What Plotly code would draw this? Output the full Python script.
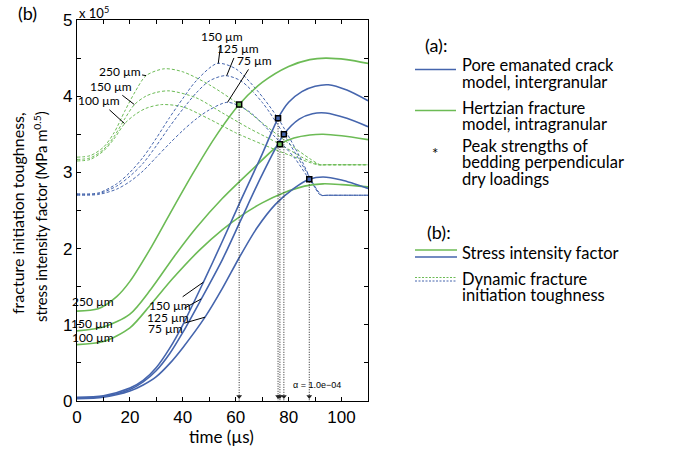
import plotly.graph_objects as go

BLUE = '#4565ad'
GREEN = '#6cbb55'

# ---- Stress intensity factor (solid lines), values in 1e5 MPa m^0.5 ----
sif_g250_t = [0, 8, 15, 20, 27.4, 35, 43.7, 52, 61.3, 70, 80, 88, 94, 102, 110]
sif_g250_k = [1.18, 1.21, 1.37, 1.57, 1.98, 2.45, 2.98, 3.45, 3.89, 4.18, 4.39, 4.48, 4.5, 4.48, 4.43]
sif_g150_t = [0, 10, 20, 28, 36.8, 45, 55, 66, 76.7, 82, 88, 93, 100, 110]
sif_g150_k = [0.92, 0.97, 1.14, 1.47, 1.9, 2.27, 2.66, 3.03, 3.37, 3.45, 3.49, 3.5, 3.48, 3.43]
sif_g100_t = [0, 10, 20, 28, 36, 46.3, 55, 62, 70, 78, 86, 93, 100, 110]
sif_g100_k = [0.74, 0.78, 0.96, 1.27, 1.6, 1.98, 2.25, 2.43, 2.6, 2.73, 2.82, 2.85, 2.84, 2.81]

sif_b150_t = [0, 10, 20, 25, 30, 35, 40, 47.8, 55, 62, 70, 76, 80, 85, 90, 95, 102, 110]
sif_b150_k = [0.05, 0.07, 0.17, 0.27, 0.44, 0.69, 1.0, 1.56, 2.1, 2.64, 3.24, 3.71, 3.92, 4.06, 4.13, 4.15, 4.08, 3.94]
sif_b125_t = [0, 10, 20, 25, 30, 35, 40, 47, 55, 62, 70, 78.2, 84, 89, 94, 102, 110]
sif_b125_k = [0.04, 0.06, 0.15, 0.25, 0.4, 0.62, 0.9, 1.34, 1.86, 2.38, 2.97, 3.5, 3.7, 3.77, 3.78, 3.71, 3.6]
sif_b75_t = [0, 10, 20, 25, 30, 35, 40, 48.4, 55, 61.3, 68, 75, 82, 87.8, 93, 100, 110]
sif_b75_k = [0.03, 0.05, 0.13, 0.21, 0.32, 0.49, 0.7, 1.1, 1.48, 1.88, 2.27, 2.58, 2.79, 2.91, 2.94, 2.9, 2.79]

# ---- Dynamic fracture initiation toughness (dashed lines) ----
dft_g250_t = [0, 5, 10, 14, 18, 22, 26.1, 33, 40, 50, 61.3, 70, 80, 88, 92, 94, 100, 110]
dft_g250_k = [3.2, 3.22, 3.33, 3.52, 3.8, 4.06, 4.27, 4.36, 4.32, 4.15, 3.89, 3.65, 3.38, 3.18, 3.1, 3.1, 3.1, 3.1]
dft_g150_t = [0, 5, 10, 14, 18, 21.7, 26, 30, 35, 45, 55, 65, 76.7, 85, 91.5, 93.5, 100, 110]
dft_g150_k = [3.17, 3.19, 3.3, 3.47, 3.7, 3.89, 4.0, 4.05, 4.07, 3.98, 3.78, 3.58, 3.37, 3.2, 3.1, 3.1, 3.1, 3.1]
dft_g100_t = [0, 5, 10, 14, 18, 22, 26, 32, 40, 50, 60, 70, 80, 91, 93, 100, 110]
dft_g100_k = [3.15, 3.17, 3.28, 3.44, 3.64, 3.76, 3.84, 3.89, 3.86, 3.7, 3.52, 3.37, 3.23, 3.1, 3.1, 3.1, 3.1]

dft_b150_t = [0, 8, 15, 20, 25, 30, 35, 40, 45, 53, 60, 68, 76, 84, 92, 94, 100, 110]
dft_b150_k = [2.72, 2.73, 2.85, 3.0, 3.2, 3.45, 3.72, 3.97, 4.2, 4.43, 4.36, 4.08, 3.71, 3.22, 2.7, 2.7, 2.7, 2.7]
dft_b125_t = [0, 8, 15, 20, 25, 30, 35, 40, 45, 50, 56, 62, 70, 78.2, 86, 92.5, 94.5, 100, 110]
dft_b125_k = [2.71, 2.72, 2.82, 2.95, 3.12, 3.35, 3.6, 3.83, 4.04, 4.2, 4.27, 4.2, 3.92, 3.5, 3.05, 2.7, 2.7, 2.7, 2.7]
dft_b75_t = [0, 8, 15, 20, 25, 30, 35, 40, 45, 50, 57, 65, 75, 82, 87.8, 92.5, 94.5, 100, 110]
dft_b75_k = [2.7, 2.71, 2.78, 2.88, 3.02, 3.2, 3.38, 3.55, 3.7, 3.82, 3.92, 3.8, 3.46, 3.2, 2.91, 2.7, 2.7, 2.7, 2.7]

# ---- Peak strengths (intersections) ----
peak_t = [61.3, 76.0, 78.2, 76.7, 87.8]
peak_k = [3.89, 3.71, 3.50, 3.37, 2.91]
peak_c = [GREEN, BLUE, BLUE, GREEN, BLUE]

xtick_vals = [0, 10, 20, 30, 40, 50, 60, 70, 80, 90, 100, 110]
xtick_text = ['0', ' ', '20', ' ', '40', ' ', '60', ' ', '80', ' ', '100', ' ']
ytick_vals = [0, 0.5, 1, 1.5, 2, 2.5, 3, 3.5, 4, 4.5, 5]
ytick_text = ['0', ' ', '1', ' ', '2', ' ', '3', ' ', '4', ' ', '5']

TXT = 'Lato'
NUM = 'Liberation Sans'

fig = go.Figure()

def add(t, k, color, dashed):
    fig.add_trace(go.Scatter(
        x=t, y=k, mode='lines', showlegend=False, hoverinfo='skip',
        line=dict(color=color, width=1 if dashed else 1.6,
                  dash='3px,2px' if dashed else 'solid',
                  shape='spline', smoothing=0.8)))

for t, k in [(dft_g250_t, dft_g250_k), (dft_g150_t, dft_g150_k), (dft_g100_t, dft_g100_k)]:
    add(t, k, GREEN, True)
for t, k in [(dft_b150_t, dft_b150_k), (dft_b125_t, dft_b125_k), (dft_b75_t, dft_b75_k)]:
    add(t, k, BLUE, True)
for t, k in [(sif_g250_t, sif_g250_k), (sif_g150_t, sif_g150_k), (sif_g100_t, sif_g100_k)]:
    add(t, k, GREEN, False)
for t, k in [(sif_b150_t, sif_b150_k), (sif_b125_t, sif_b125_k), (sif_b75_t, sif_b75_k)]:
    add(t, k, BLUE, False)

# dotted drop lines to the time axis
for t, k in zip(peak_t, peak_k):
    fig.add_trace(go.Scatter(x=[t, t], y=[k, 0], mode='lines', showlegend=False,
                             hoverinfo='skip',
                             line=dict(color='#222', width=1, dash='1px,1.5px')))
fig.add_trace(go.Scatter(x=peak_t, y=[0.06] * len(peak_t), mode='markers', showlegend=False,
                         hoverinfo='skip', cliponaxis=False,
                         marker=dict(symbol='triangle-down', size=5, color='#222')))
fig.add_trace(go.Scatter(x=peak_t, y=peak_k, mode='markers', showlegend=False, hoverinfo='skip',
                         marker=dict(symbol='square', size=5, color=peak_c,
                                     line=dict(color='black', width=1.5))))

ann = []

def lab(text, tx, ty, px_=None, py_=None, size=12):
    d = dict(text=text, x=tx, y=ty, xref='x', yref='y', showarrow=False,
             font=dict(family=TXT, size=size, color='black'))
    if px_ is not None:
        d.update(x=px_, y=py_, ax=tx, ay=ty, axref='x', ayref='y', showarrow=True,
                 arrowhead=0, arrowwidth=1, arrowcolor='black', standoff=0, startstandoff=0)
    ann.append(d)

# dashed-curve labels
lab('250 µm', 16.1, 4.33, 26.1, 4.27)
lab('150 µm', 12.7, 4.13, 21.7, 3.89)
lab('100 µm', 8.5, 3.94, 18.0, 3.64)
lab('150 µm', 54.7, 4.79, 53.4, 4.43)
lab('125 µm', 60.7, 4.62, 56.6, 4.27)
lab('75 µm', 67.0, 4.47, 56.9, 3.92)
# solid-curve labels
lab('250 µm', 6.0, 1.30)
lab('150 µm', 5.6, 1.02)
lab('100 µm', 6.0, 0.83)
lab('150 µm', 35.1, 1.25, 47.8, 1.56)
lab('125 µm', 34.4, 1.10, 47.0, 1.34)
lab('75 µm', 33.4, 0.95, 48.4, 1.1)
ann.append(dict(text='α = 1.0e−04', x=90.8, y=0.21, xref='x', yref='y', showarrow=False,
                font=dict(family=NUM, size=9, color='black')))

L, R, T, B = 77, 368, 20, 401
def px(x):
    return (x - L) / (R - L)
def py(y):
    return (B - y) / (B - T)

def ptxt(text, x, y, size=16.5, anchor='left', family=TXT, angle=0):
    ann.append(dict(text=text, x=px(x), y=py(y), xref='paper', yref='paper', showarrow=False,
                    xanchor=anchor, yanchor='middle', textangle=angle,
                    font=dict(family=family, size=size, color='black')))

ptxt('(b)', 27, 13, size=18, anchor='center')
ptxt('x 10<sup>5</sup>', 77, 13, size=13)
ptxt('fracture initiation toughness,', 17, 213, size=16, anchor='center', angle=-90)
ptxt('stress intensity factor (MPa m<sup>0.5</sup>)', 40, 217, size=14.8, anchor='center', angle=-90)
ptxt('time (µs)', 221, 436, size=17, anchor='center')

# legend (a)
ptxt('(a):', 423, 45, size=18)
ptxt('Pore emanated crack', 460, 65)
ptxt('model, intergranular', 460, 81.5)
ptxt('Hertzian fracture', 460, 108)
ptxt('model, intragranular', 460, 124)
ptxt('*', 435, 153, size=15, anchor='center')
ptxt('Peak strengths of', 460, 146)
ptxt('bedding perpendicular', 460, 162)
ptxt('dry loadings', 460, 179)
# legend (b)
ptxt('(b):', 425, 232, size=18)
ptxt('Stress intensity factor', 460, 253)
ptxt('Dynamic fracture', 460, 279)
ptxt('initiation toughness', 460, 295)

shapes = []
def pline(x0, x1, y, color, dash='solid', w=1.6):
    shapes.append(dict(type='line', xref='paper', yref='paper', x0=px(x0), x1=px(x1),
                       y0=py(y), y1=py(y), line=dict(color=color, width=w, dash=dash)))

pline(415, 456, 69.5, BLUE)
pline(415, 456, 110.5, GREEN)
pline(415, 457, 250, GREEN)
pline(415, 457, 257, BLUE)
pline(415, 457, 277.5, GREEN, '2px,1.5px', 1)
pline(415, 457, 281, BLUE, '2px,1.5px', 1)

axis_common = dict(showline=True, linecolor='black', linewidth=1.3, mirror='ticks',
                   ticks='inside', ticklen=4, tickcolor='black', tickwidth=1,
                   showgrid=False, zeroline=False, automargin=False,
                   tickfont=dict(family=NUM, size=17, color='black'))

fig.update_layout(
    width=696, height=450,
    margin=dict(l=L, r=696 - R, t=T, b=450 - B, autoexpand=False),
    paper_bgcolor='white', plot_bgcolor='white',
    xaxis=dict(range=[0, 110], tickmode='array', tickvals=xtick_vals, ticktext=xtick_text,
               **axis_common),
    yaxis=dict(range=[0, 5], tickmode='array', tickvals=ytick_vals, ticktext=ytick_text,
               **axis_common),
    annotations=ann, shapes=shapes, showlegend=False,
)

fig.write_html('out.html', config={'displayModeBar': False},
               post_script="document.body.style.margin='0';document.body.style.overflow='hidden';")
